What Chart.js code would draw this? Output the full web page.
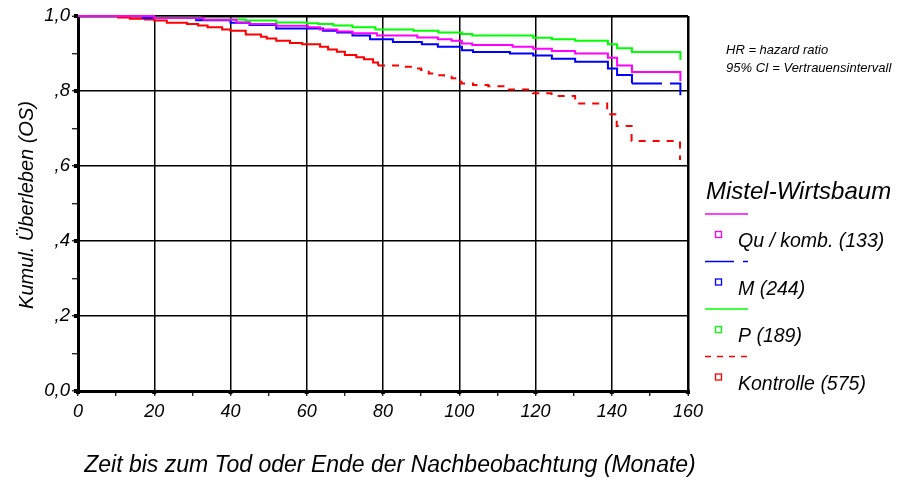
<!DOCTYPE html>
<html>
<head>
<meta charset="utf-8">
<script src="https://cdn.jsdelivr.net/npm/chart.js@4/dist/chart.umd.min.js"></script>
<style>
  html, body { margin: 0; padding: 0; background: #fff; }
</style>
</head>
<body>
<canvas id="chart" width="919" height="482"></canvas>
<script>
// Kaplan-Meier steps: event time (months) -> cumulative survival
const quTimes = [0, 20, 33, 41.6, 45, 52, 60.3, 63.5, 68, 72, 78.4, 89, 94.4, 98, 100.7, 103.4, 114, 119.4, 124.3, 130.4, 139, 141.4, 145.3, 158]
const quSurv = [1, 0.995, 0.99, 0.983, 0.979, 0.974, 0.97, 0.964, 0.959, 0.954, 0.948, 0.943, 0.938, 0.934, 0.927, 0.923, 0.918, 0.913, 0.907, 0.9, 0.889, 0.868, 0.851, 0.827]

const mTimes = [0, 17, 31, 40, 45, 52, 64.3, 68, 72, 76.6, 82.6, 90.2, 94.4, 100.7, 103.6, 113.3, 119.4, 124.3, 130.4, 139, 141.4, 145.3, 158]
const mSurv = [1, 0.995, 0.989, 0.982, 0.976, 0.967, 0.961, 0.956, 0.948, 0.938, 0.931, 0.925, 0.918, 0.909, 0.904, 0.9, 0.895, 0.886, 0.878, 0.86, 0.843, 0.82, 0.789]

const pTimes = [0, 19, 32, 44, 52, 60, 63, 67, 72, 78, 88, 94.5, 100.7, 103.4, 119.4, 124.3, 130.4, 139, 141.4, 145.3, 158]
const pSurv = [1, 0.996, 0.991, 0.988, 0.983, 0.981, 0.979, 0.975, 0.97, 0.964, 0.961, 0.956, 0.952, 0.948, 0.942, 0.938, 0.934, 0.925, 0.914, 0.904, 0.883]

const kTimes = [0, 10.5, 13.6, 17.6, 20, 23.3, 28.6, 31.5, 34, 37.8, 40, 44, 48, 49.5, 52, 55.6, 58.8, 63.5, 65.6, 67.9, 70, 73, 75, 77.4, 78.7, 86, 88, 90, 92, 94, 96, 98, 100.2, 100.6, 103.6, 107.6, 113, 119.3, 124.2, 130.4, 138.8, 141.3, 145.2, 157.9]
const kSurv = [1, 0.996, 0.993, 0.991, 0.988, 0.982, 0.979, 0.975, 0.97, 0.964, 0.961, 0.951, 0.945, 0.94, 0.934, 0.928, 0.925, 0.918, 0.911, 0.905, 0.896, 0.89, 0.885, 0.876, 0.868, 0.865, 0.86, 0.856, 0.847, 0.842, 0.838, 0.834, 0.825, 0.82, 0.816, 0.813, 0.804, 0.794, 0.787, 0.767, 0.738, 0.707, 0.667, 0.616]

const seriesNames = ['Qu / komb. (133)', 'M (244)', 'P (189)', 'Kontrolle (575)']
const xTickLabels = ['0', '20', '40', '60', '80', '100', '120', '140', '160']
const yTickLabels = ['0,0', ',2', ',4', ',6', ',8', '1,0']

const legendTitle = 'Mistel-Wirtsbaum'
const notes = ['HR = hazard ratio', '95% CI = Vertrauensintervall']
const xTitle = 'Zeit bis zum Tod oder Ende der Nachbeobachtung (Monate)'
const yTitle = 'Kumul. Überleben (OS)'

const FONT = "'Liberation Sans', Arial, sans-serif"

function points(times, surv) {
    return times.map((t, i) => ({ x: t, y: surv[i] }))
}

function isMajorY(v) {
    return Math.round(v * 10) % 2 === 0
}

function isMajorX(v) {
    return Math.round(v) % 20 === 0
}

// draws axis titles, legend, notes and the little tick squares
const decorations = {
    id: 'decorations',
    afterDraw(chart) {
        const ctx = chart.ctx
        const { left, right, bottom } = chart.chartArea
        const xs = chart.scales.x
        const ys = chart.scales.y
        ctx.save()

        ctx.fillStyle = '#000'
        xTickLabels.forEach(l => {
            const px = xs.getPixelForValue(Number(l))
            ctx.fillRect(px - 2, bottom - 1, 4, 4)
        })
        yTickLabels.forEach((l, i) => {
            const py = ys.getPixelForValue(i * 0.2)
            ctx.fillRect(left - 4, py - 2, 4, 4)
        })

        ctx.textBaseline = 'middle'
        ctx.textAlign = 'center'
        ctx.font = 'italic 23px ' + FONT
        ctx.fillText(xTitle, (left + right) / 2 + 7, 466)

        ctx.save()
        ctx.translate(27, 205)
        ctx.rotate(-Math.PI / 2)
        ctx.font = 'italic 20px ' + FONT
        ctx.fillText(yTitle, 0, 0)
        ctx.restore()

        ctx.textAlign = 'left'
        ctx.font = 'italic 13px ' + FONT
        ctx.fillText(notes[0], 726, 50)
        ctx.fillText(notes[1], 726, 68)

        ctx.font = 'italic 24px ' + FONT
        ctx.fillText(legendTitle, 706, 192)

        ctx.font = 'italic 19.5px ' + FONT
        chart.data.datasets.forEach((ds, i) => {
            const y = 214 + i * 47.5
            ctx.strokeStyle = ds.borderColor
            ctx.lineWidth = 1.5
            ctx.setLineDash(ds.legendDash)
            ctx.beginPath()
            ctx.moveTo(705, y)
            ctx.lineTo(748, y)
            ctx.stroke()
            ctx.setLineDash([])
            ctx.lineWidth = 1.3
            ctx.strokeRect(715.5, y + 17.5, 6, 6)
            ctx.fillStyle = '#000'
            ctx.fillText(ds.label, 738, y + 28)
        })

        ctx.restore()
    }
}

new Chart(document.getElementById('chart').getContext('2d'), {
    type: 'line',
    data: {
        datasets: [
            {
                label: seriesNames[0],
                data: points(quTimes, quSurv),
                borderColor: '#ff00ff',
                legendDash: [],
            },
            {
                label: seriesNames[1],
                data: points(mTimes, mSurv),
                borderColor: '#0000ff',
                legendDash: [29, 9],
                segment: {
                    borderDash: c => (c.p0.parsed.x >= 145 ? [30, 8] : undefined),
                },
            },
            {
                label: seriesNames[2],
                data: points(pTimes, pSurv),
                borderColor: '#00ff00',
                legendDash: [],
            },
            {
                label: seriesNames[3],
                data: points(kTimes, kSurv),
                borderColor: '#ff0000',
                legendDash: [6, 6],
                segment: {
                    borderDash: c => (c.p0.parsed.x >= 78 ? [7, 7] : undefined),
                },
            },
        ],
    },
    options: {
        responsive: false,
        animation: false,
        clip: false,
        parsing: false,
        layout: { padding: { top: 16, right: 231, left: 0, bottom: 0 } },
        elements: {
            line: { stepped: true, borderWidth: 2, fill: false, tension: 0 },
            point: { radius: 0, hoverRadius: 0 },
        },
        plugins: {
            legend: { display: false },
            tooltip: { enabled: false },
        },
        scales: {
            x: {
                type: 'linear',
                min: 0,
                max: 160,
                afterFit: s => { s.height = 91 },
                afterBuildTicks: s => {
                    s.ticks = []
                    for (let v = 0; v <= 160; v += 10) s.ticks.push({ value: v })
                },
                ticks: {
                    autoSkip: false,
                    maxRotation: 0,
                    padding: 5,
                    color: '#000',
                    font: { family: FONT, size: 18, style: 'italic' },
                    callback: v => (isMajorX(v) ? xTickLabels[Math.round(v / 20)] : ''),
                },
                grid: {
                    color: c => (c.tick && isMajorX(c.tick.value) ? '#000' : 'rgba(0,0,0,0)'),
                    lineWidth: c => (c.tick && c.tick.value === 160 ? 2.5 : 1.5),
                    tickColor: '#000',
                    tickLength: 5,
                    tickWidth: 1.2,
                },
                border: { color: '#000', width: 3 },
            },
            y: {
                type: 'linear',
                min: 0,
                max: 1,
                afterFit: s => { s.width = 78 },
                afterBuildTicks: s => {
                    s.ticks = []
                    for (let k = 0; k <= 10; k++) s.ticks.push({ value: k / 10 })
                },
                ticks: {
                    autoSkip: false,
                    padding: 2,
                    color: '#000',
                    font: { family: FONT, size: 18.5, style: 'italic' },
                    callback: v => (isMajorY(v) ? yTickLabels[Math.round(v * 5)] : ''),
                },
                grid: {
                    color: c => (c.tick && isMajorY(c.tick.value) ? '#000' : 'rgba(0,0,0,0)'),
                    lineWidth: c => (c.tick && c.tick.value === 1 ? 2.5 : 1.5),
                    tickColor: '#000',
                    tickLength: 6,
                    tickWidth: 1.2,
                },
                border: { color: '#000', width: 3 },
            },
        },
    },
    plugins: [decorations],
})
</script>
</body>
</html>
